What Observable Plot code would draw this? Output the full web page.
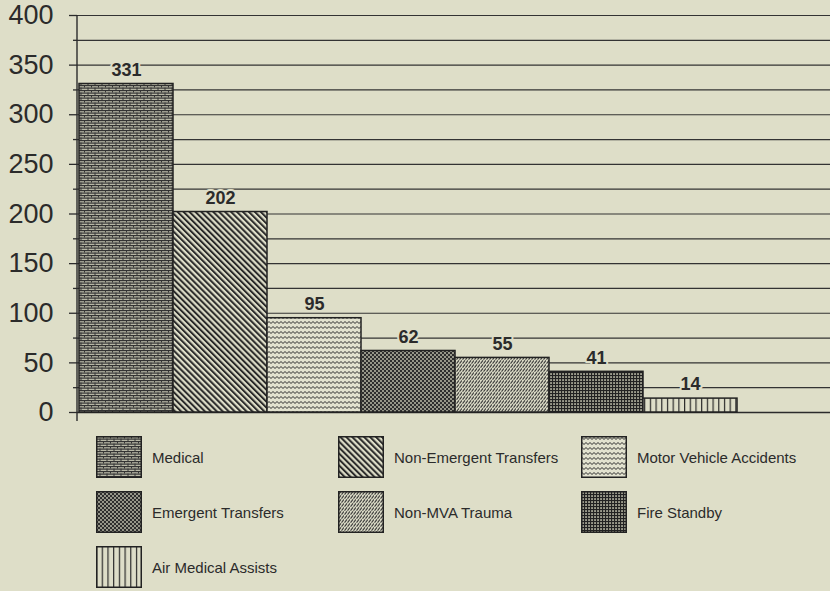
<!DOCTYPE html>
<html>
<head>
<meta charset="utf-8">
<script src="https://cdn.jsdelivr.net/npm/d3@7"></script>
<script src="https://cdn.jsdelivr.net/npm/@observablehq/plot@0.6"></script>
<style>
  html, body { margin: 0; padding: 0; background: #dedec8; }
  #wrap { position: relative; width: 830px; height: 591px; overflow: hidden; font-family: Arial, "Liberation Sans", sans-serif; color: #2b2b2b; }
  #chart { position: absolute; left: 0; top: 0; }
  .leg { position: absolute; display: flex; align-items: center; font-size: 15px; }
  .leg svg { margin-right: 10px; }
</style>
</head>
<body>
<svg width="0" height="0" style="position:absolute">
  <defs>
    <pattern id="p-medical" patternUnits="userSpaceOnUse" width="7" height="5">
      <rect width="7" height="5" fill="#b8b8a6"/>
      <line x1="0" y1="0.6" x2="7" y2="0.6" stroke="#333" stroke-width="1.2"/>
      <line x1="0" y1="3.1" x2="7" y2="3.1" stroke="#333" stroke-width="1.2"/>
      <line x1="0.5" y1="0" x2="0.5" y2="2.5" stroke="#333" stroke-width="1"/>
      <line x1="4" y1="2.5" x2="4" y2="5" stroke="#333" stroke-width="1"/>
    </pattern>
    <pattern id="p-nonemerg" patternUnits="userSpaceOnUse" width="4.2" height="4.2" patternTransform="rotate(-45)">
      <rect width="4.2" height="4.2" fill="#dedec8"/>
      <line x1="1" y1="0" x2="1" y2="4.2" stroke="#2a2a2a" stroke-width="2"/>
    </pattern>
    <pattern id="p-mva" patternUnits="userSpaceOnUse" width="4" height="5">
      <rect width="4" height="5" fill="#e2e2cf"/>
      <path d="M0 2.5 Q1 0.6 2 2.5 T4 2.5" fill="none" stroke="#333" stroke-width="1"/>
    </pattern>
    <pattern id="p-emerg" patternUnits="userSpaceOnUse" width="4" height="4">
      <rect width="4" height="4" fill="#2e2e2e"/>
      <circle cx="1" cy="1" r="0.9" fill="#c8c8b4"/>
      <circle cx="3" cy="3" r="0.9" fill="#c8c8b4"/>
    </pattern>
    <pattern id="p-nonmva" patternUnits="userSpaceOnUse" width="6" height="4">
      <rect width="6" height="4" fill="#d8d8c4"/>
      <path d="M0.5 3.6 L3 0.4 M3.5 3.6 L6 0.4" fill="none" stroke="#3a3a3a" stroke-width="1.1"/>
    </pattern>
    <pattern id="p-fire" patternUnits="userSpaceOnUse" width="3" height="3">
      <rect width="3" height="3" fill="#9c9c8c"/>
      <line x1="0" y1="0.5" x2="3" y2="0.5" stroke="#222" stroke-width="1.2"/>
      <line x1="0.5" y1="0" x2="0.5" y2="3" stroke="#222" stroke-width="1.2"/>
    </pattern>
    <pattern id="p-air" patternUnits="userSpaceOnUse" width="5.7" height="6">
      <rect width="5.7" height="6" fill="#dedec8"/>
      <line x1="0.6" y1="0" x2="0.6" y2="6" stroke="#2a2a2a" stroke-width="1.2"/>
    </pattern>
  </defs>
</svg>
<div id="wrap"><div id="chart"></div></div>
<script>
const categories = ["Medical", "Non-Emergent Transfers", "Motor Vehicle Accidents", "Emergent Transfers", "Non-MVA Trauma", "Fire Standby", "Air Medical Assists"];
const values = [331, 202, 95, 62, 55, 41, 14];
const patterns = ["p-medical", "p-nonemerg", "p-mva", "p-emerg", "p-nonmva", "p-fire", "p-air"];
const yTicks = [0, 50, 100, 150, 200, 250, 300, 350, 400];
const yMinorTicks = [25, 75, 125, 175, 225, 275, 325, 375];
const gridValues = [25, 50, 75, 100, 125, 150, 175, 200, 225, 250, 275, 300, 325, 350, 375, 400];
// legend layout: 3 columns, row-major
const legendCols = [96, 338, 581];
const legendRows = [436, 491, 546];

const bg = "#dedec8";
const ink = "#2b2b2b";
const data = categories.map((c, i) => ({cat: c, value: values[i], fill: `url(#${patterns[i]})`}));

const axisLine = (index, scales, vals, dims) => {
  const ns = "http://www.w3.org/2000/svg";
  const l = document.createElementNS(ns, "line");
  const x = dims.marginLeft;
  l.setAttribute("x1", x); l.setAttribute("x2", x);
  l.setAttribute("y1", scales.y(400)); l.setAttribute("y2", scales.y(0) + 9);
  l.setAttribute("stroke", ink); l.setAttribute("stroke-width", 1.4);
  return l;
};

const chart = Plot.plot({
  width: 830, height: 432,
  marginTop: 15, marginBottom: 20, marginLeft: 77, marginRight: 0,
  style: {background: "transparent", fontFamily: "Arial, 'Liberation Sans', sans-serif", color: ink},
  x: {domain: categories, range: [77, 739], padding: 0, axis: null},
  y: {domain: [0, 400], axis: null},
  color: {type: "identity"},
  marks: [
    Plot.ruleY(gridValues, {stroke: "#333", strokeWidth: 1.2}),
    Plot.ruleY([0], {stroke: ink, strokeWidth: 1.4}),
    Plot.barY(data, {x: "cat", y: "value", fill: "fill", stroke: "#222", strokeWidth: 1.5}),
    Plot.text(data, {x: "cat", y: "value", text: d => String(d.value), dy: -14, fontSize: 18, fontWeight: "bold", fill: ink, stroke: bg, strokeWidth: 4, paintOrder: "stroke"}),
    Plot.axisY({ticks: yTicks, tickSize: 8, tickPadding: 16, fontSize: 27, label: null, stroke: ink, strokeWidth: 1.3}),
    Plot.axisY({ticks: yMinorTicks, tickSize: 4, tickFormat: () => "", label: null, stroke: ink, strokeWidth: 1.3}),
    axisLine
  ]
});
document.getElementById("chart").appendChild(chart);

const wrap = document.getElementById("wrap");
categories.forEach((c, i) => {
  const div = document.createElement("div");
  div.className = "leg";
  div.style.left = legendCols[i % 3] + "px";
  div.style.top = legendRows[Math.floor(i / 3)] + "px";
  div.innerHTML = `<svg width="46" height="42"><rect x="0.75" y="0.75" width="44.5" height="40.5" fill="url(#${patterns[i]})" stroke="#222" stroke-width="1.5"/></svg><span>${c}</span>`;
  wrap.appendChild(div);
});
</script>
</body>
</html>
